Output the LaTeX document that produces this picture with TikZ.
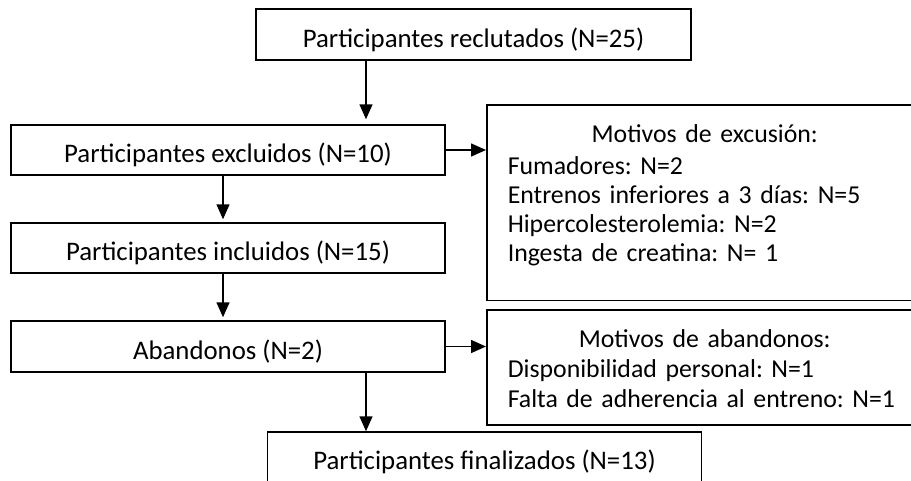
\documentclass[tikz,border=0pt]{standalone}
\usepackage{fontspec}
\setmainfont{Carlito}
\usetikzlibrary{arrows.meta,positioning}

\tikzset{
	stage/.style={draw, minimum width=434pt, minimum height=50pt, inner sep=0pt, text height=30pt, text depth=5pt},
	reasons/.style={draw, anchor=north west, text width=394pt, inner xsep=21pt, inner ysep=0pt, font=\fontsize{25.8}{29}\selectfont},
}

\begin{document}
\frenchspacing
\begin{tikzpicture}[x=1pt,y=-1pt,>={Triangle[width=13pt,length=15pt]},line width=1.5pt,font=\fontsize{26.8}{32}\selectfont]
	\useasboundingbox (0,0) rectangle (911,480);
	\clip (0,0) rectangle (911,480);

	%% Main column
	\node [stage, minimum width=435pt, minimum height=51pt] (recl) at (473.5,34.5) {Participantes reclutados (N=25)};
	\node [stage] (excl) at (228,150) {Participantes excluidos (N=10)};
	\node [stage] (incl) at (228,248) {Participantes incluidos (N=15)};
	\node [stage, minimum height=51pt] (aband) at (228,346.5) {Abandonos (N=2)};
	\node [stage] (final) at (484.5,457) {Participantes finalizados (N=13)};

	%% Reasons
	\node [reasons] (excreasons) at (486,104) {\centering\rule{0pt}{38pt}Motivos de excusión:\par\vspace{2.6pt}\raggedright
		Fumadores: N=2\par
		Entrenos inferiores a 3 días: N=5\par
		Hipercolesterolemia: N=2\par
		Ingesta de creatina: N= 1\rule[-39pt]{0pt}{39pt}\par};
	\node [reasons, font=\fontsize{25.8}{30}\selectfont] (abreasons) at (486,309) {\centering\rule{0pt}{37.7pt}Motivos de abandonos:\par\raggedright
		Disponibilidad personal: N=1\par
		Falta de adherencia al entreno: N=1\rule[-17.3pt]{0pt}{17.3pt}\par};

	%% Arrows
	\coordinate (split) at (366,0);
	\coordinate (left) at (223,0);
	\draw [->, shorten >=5pt] (split |- recl.south) -- (split |- excl.north);
	\draw [->, shorten >=3pt] (left |- excl.south) -- (left |- incl.north);
	\draw [->, shorten >=3pt] (left |- incl.south) -- (left |- aband.north);
	\draw [->] (split |- aband.south) -- (split |- final.north);
	\draw [->] (excl.east) -- (excl.east -| excreasons.west);
	\draw [->] (aband.east) -- (aband.east -| abreasons.west);
\end{tikzpicture}
\end{document}
